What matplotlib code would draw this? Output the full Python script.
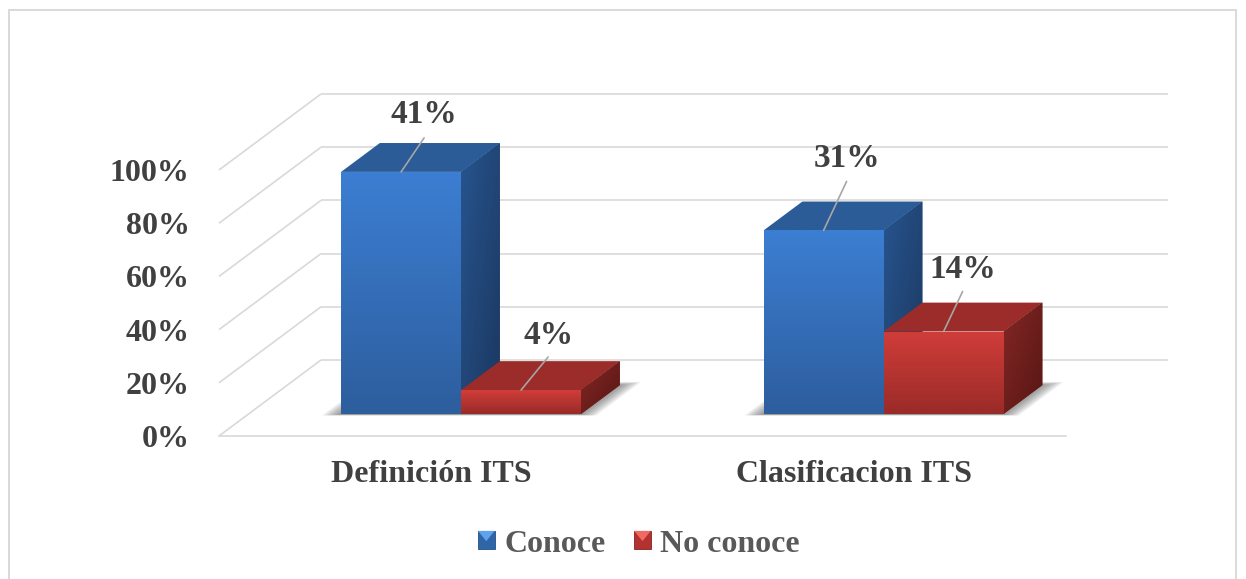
import numpy as np
from matplotlib import pyplot as plt
from matplotlib.colors import LinearSegmentedColormap
from matplotlib.legend_handler import HandlerBase
from matplotlib.lines import Line2D
from matplotlib.patches import Patch, Polygon, Rectangle

categories = ['Definición ITS', 'Clasificacion ITS']
series_names = ['Conoce', 'No conoce']
conoce_pct = [91, 69]       # altura en el eje (100% apilado)
no_conoce_pct = [9, 31]
conoce_labels = ['41%', '31%']
no_conoce_labels = ['4%', '14%']
y_ticks = [0, 20, 40, 60, 80, 100]
y_tick_labels = ['0%', '20%', '40%', '60%', '80%', '100%']

plt.rcParams['font.family'] = ['Liberation Serif', 'DejaVu Serif']
plt.rcParams['font.weight'] = 'bold'

# desplazamiento de la profundidad 3D en unidades de datos
DX = 0.2414
DY = 28.57
BAR_W = 0.284
D0 = 0.29
D1 = 0.67
W, H = 1246, 579

BLUE = dict(front=('#3c7ed2', '#2d5e9e'), top='#2b5c98', side=('#27548e', '#1b3860'))
RED = dict(front=('#d03d39', '#9a2b28'), top='#9b2c29', side=('#832725', '#571613'))


def pr(x, v, d):
    return x + d * DX, v + d * DY


def grad_poly(ax, pts, c1, c2, zorder, diagonal=False):
    pts = np.array(pts)
    cmap = LinearSegmentedColormap.from_list('g', [c1, c2])
    t = np.linspace(0, 1, 64)
    arr = (np.add.outer(t, t) / 2) if diagonal else t.reshape(-1, 1)
    poly = Polygon(pts, closed=True, facecolor=cmap(0.5), edgecolor='none', zorder=zorder)
    ax.add_patch(poly)
    im = ax.imshow(arr, cmap=cmap, vmin=0, vmax=1, origin='upper', aspect='auto', zorder=zorder,
                   interpolation='bilinear',
                   extent=(pts[:, 0].min(), pts[:, 0].max(), pts[:, 1].min(), pts[:, 1].max()))
    im.set_clip_path(poly)


def bar3d(ax, x0, x1, v, colors, zorder):
    # cara superior, lateral y frontal
    top = [pr(x0, v, D0), pr(x1, v, D0), pr(x1, v, D1), pr(x0, v, D1)]
    ax.add_patch(Polygon(top, closed=True, facecolor=colors['top'], edgecolor='none', zorder=zorder))
    side = [pr(x1, 0, D0), pr(x1, v, D0), pr(x1, v, D1), pr(x1, 0, D1)]
    grad_poly(ax, side, colors['side'][0], colors['side'][1], zorder, diagonal=True)
    front = [pr(x0, 0, D0), pr(x1, 0, D0), pr(x1, v, D0), pr(x0, v, D0)]
    grad_poly(ax, front, colors['front'][0], colors['front'][1], zorder + 0.1)


def floor_shadow(ax, x0, x1):
    # sombra difusa sobre el suelo
    for e in np.linspace(0.04, 0.0, 8):
        pts = [pr(x0 - e, 0, D0 - e * 0.25 - 0.01), pr(x1 + e, 0, D0 - e * 0.25 - 0.01),
               pr(x1 + e, 0, D1 + e), pr(x0 - e, 0, D1 + e)]
        ax.add_patch(Polygon(pts, closed=True, facecolor='#404040', alpha=0.09,
                             edgecolor='none', zorder=2))


class PyramidHandler(HandlerBase):
    def __init__(self, colors):
        super().__init__()
        self.colors = colors

    def create_artists(self, legend, orig_handle, xdescent, ydescent, width, height, fontsize, trans):
        light, mid, dark = self.colors
        base = Rectangle((-xdescent, -ydescent), width, height, facecolor=mid, edgecolor=dark,
                         linewidth=0.6, transform=trans)
        x0, y0 = -xdescent, -ydescent
        tri = Polygon([(x0, y0 + height), (x0 + width, y0 + height), (x0 + width / 2, y0 + height * 0.45)],
                      closed=True, facecolor=light, edgecolor='none', transform=trans)
        return [base, tri]


fig = plt.figure(figsize=(W / 100, H / 100), dpi=100)
ax = fig.add_axes([219 / W, (H - 436) / H, (1168 - 219) / W, (436 - 94) / H])
x_lim = (-0.503, -0.503 + (1168 - 219) / 422.5)
y_lim = (0, (436 - 94) / 2.66)

# rejilla: pared del fondo, pared lateral y suelo
grid_c = '#d9d9d9'
for v in y_ticks:
    ax.plot([x_lim[0], pr(x_lim[0], v, 1)[0]], [v, pr(x_lim[0], v, 1)[1]], color=grid_c, lw=1.2,
            zorder=1, clip_on=False, solid_capstyle='butt')
    ax.plot([pr(x_lim[0], v, 1)[0], x_lim[1]], [v + DY, v + DY], color=grid_c, lw=1.2,
            zorder=1, clip_on=False, solid_capstyle='butt')
ax.plot([x_lim[0], x_lim[1] - DX], [0, 0], color=grid_c, lw=1.2, zorder=1, clip_on=False)

pos = np.arange(len(categories))
for i, c in enumerate(pos):
    floor_shadow(ax, c - BAR_W, c + BAR_W)
    bar3d(ax, c - BAR_W, c, conoce_pct[i], BLUE, 3 + i)
    bar3d(ax, c, c + BAR_W, no_conoce_pct[i], RED, 3.5 + i)

# etiquetas con linea guia (desplazamientos en pixeles)
label_c = '#404040'
leader_c = '#a6a6a6'
blue_off = [(23, 34), (23, 49)]
red_off = [(27, 33), (19, 40)]
for i, c in enumerate(pos):
    for x_mid, v, txt, off, text_dy in [(c - BAR_W / 2, conoce_pct[i], conoce_labels[i], blue_off[i], 23),
                                        (c + BAR_W / 2, no_conoce_pct[i], no_conoce_labels[i], red_off[i], 22)]:
        xy = pr(x_mid, v, D0)
        ax.annotate('', xy=xy, xytext=off, textcoords='offset pixels',
                    arrowprops=dict(arrowstyle='-', color=leader_c, lw=1.2, shrinkA=0, shrinkB=0),
                    zorder=8, annotation_clip=False)
        ax.annotate(txt, xy=xy, xytext=(off[0], off[1] + text_dy), textcoords='offset pixels',
                    ha='center', va='center', fontsize=24, color=label_c, fontweight='bold',
                    zorder=9, annotation_clip=False)

ax.set_xlim(*x_lim)
ax.set_ylim(*y_lim)
ax.set_xticks(pos)
ax.set_xticklabels(categories, fontsize=23, color=label_c, fontweight='bold')
ax.set_yticks(y_ticks)
ax.set_yticklabels(y_tick_labels, fontsize=23, color=label_c, fontweight='bold')
ax.tick_params(axis='x', length=0, pad=17)
ax.tick_params(axis='y', length=0, pad=21)
for s in ax.spines.values():
    s.set_visible(False)
ax.patch.set_alpha(0)

h_blue = Patch(color='#2d5e9e')
h_red = Patch(color='#a92f2c')
fig.legend([h_blue, h_red], series_names, loc='center', bbox_to_anchor=(639 / W, (H - 544) / H),
           ncol=2, frameon=False, fontsize=23, labelcolor='#595959',
           prop=dict(family='Liberation Serif', weight='bold', size=23),
           handlelength=0.52, handleheight=0.52, handletextpad=0.3, columnspacing=0.9,
           handler_map={h_blue: PyramidHandler(('#5fa3ee', '#2f66a8', '#24507f')),
                        h_red: PyramidHandler(('#ef6a63', '#b3322f', '#7f2422'))})

# marco exterior
for xs, ys in [((9, 9), (10, H)), ((9, 1236), (10, 10)), ((1236, 1236), (10, H))]:
    fig.add_artist(Line2D(np.array(xs) / W, 1 - np.array(ys) / H, color='#d9d9d9', lw=1.4))

fig.savefig('out.png', dpi=100)
